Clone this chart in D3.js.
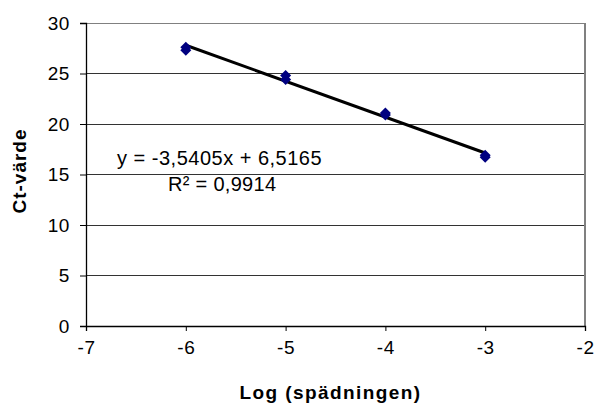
<!DOCTYPE html>
<html>
<head>
<meta charset="utf-8">
<script src="https://cdn.jsdelivr.net/npm/d3@7"></script>
<style>
  body { margin: 0; background: #fff; }
  text { font-family: "Liberation Sans", Arial, sans-serif; }
</style>
</head>
<body>
<div id="chart"></div>
<script>
// data (two replicates per dilution)
var dilutions = [-6, -6, -5, -5, -4, -4, -3, -3];
var ctValues  = [27.6, 27.3, 24.8, 24.4, 21.1, 20.9, 16.9, 16.7];
var xTicks = [-7, -6, -5, -4, -3, -2];
var yTicks = [0, 5, 10, 15, 20, 25, 30];
var equationLabel = "y = -3,5405x + 6,5165";
var r2Label = "R² = 0,9914";

var width = 594, height = 409;
var margin = {top: 23, right: 9, bottom: 83, left: 86};

var svg = d3.select("#chart")
  .append("svg")
    .attr("width", width)
    .attr("height", height);

var x = d3.scaleLinear().domain([-7, -2]).range([margin.left, width - margin.right]);
var y = d3.scaleLinear().domain([0, 30]).range([height - margin.bottom, margin.top]);

// gridlines
svg.append("g")
  .selectAll("line")
  .data(yTicks.slice(1))
  .enter().append("line")
    .attr("x1", x(-7)).attr("x2", x(-2))
    .attr("y1", function(d) { return y(d); })
    .attr("y2", function(d) { return y(d); })
    .attr("stroke", function(d) { return d === 30 ? "#808080" : "#333"; })
    .attr("stroke-width", 1)
    .attr("shape-rendering", "crispEdges");

// right border
svg.append("line")
  .attr("x1", x(-2)).attr("x2", x(-2))
  .attr("y1", y(0)).attr("y2", y(30))
  .attr("stroke", "#808080")
  .attr("stroke-width", 1.5)
  .attr("shape-rendering", "crispEdges");

// axes
var yAxis = svg.append("g")
  .attr("transform", "translate(" + x(-7) + ",0)")
  .call(d3.axisLeft(y).tickValues(yTicks).tickSize(6).tickPadding(10).tickFormat(d3.format("d")));
var xAxis = svg.append("g")
  .attr("transform", "translate(0," + y(0) + ")")
  .call(d3.axisBottom(x).tickValues(xTicks).tickSize(5).tickPadding(10).tickFormat(function(d) { return d; }));

[yAxis, xAxis].forEach(function(a) {
  a.select(".domain").attr("stroke", "#000").attr("stroke-width", 1.3);
  a.selectAll(".tick line").attr("stroke", "#000");
  a.selectAll("text").attr("font-size", 19).attr("fill", "#000")
    .attr("letter-spacing", 0.6)
    .attr("font-family", "Liberation Sans, Arial, sans-serif");
});

// trendline from least squares
var n = dilutions.length;
var mx = d3.mean(dilutions), my = d3.mean(ctValues);
var sxy = 0, sxx = 0;
for (var i = 0; i < n; i++) {
  sxy += (dilutions[i] - mx) * (ctValues[i] - my);
  sxx += (dilutions[i] - mx) * (dilutions[i] - mx);
}
var slope = sxy / sxx, intercept = my - slope * mx;
var ext = d3.extent(dilutions);

svg.append("line")
  .attr("x1", x(ext[0])).attr("y1", y(slope * ext[0] + intercept))
  .attr("x2", x(ext[1])).attr("y2", y(slope * ext[1] + intercept))
  .attr("stroke", "#000")
  .attr("stroke-width", 3);

// points as diamonds
svg.append("g")
  .selectAll("path")
  .data(dilutions.map(function(d, i) { return [d, ctValues[i]]; }))
  .enter().append("path")
    .attr("transform", function(d) { return "translate(" + x(d[0]) + "," + y(d[1]) + ")"; })
    .attr("d", "M0,-5.5L5.5,0L0,5.5L-5.5,0Z")
    .attr("fill", "#000080");

// regression labels
svg.append("text")
  .attr("x", 117).attr("y", 165)
  .attr("font-size", 20)
  .attr("letter-spacing", 0.5)
  .text(equationLabel);
svg.append("text")
  .attr("x", 168).attr("y", 191)
  .attr("font-size", 20)
  .attr("letter-spacing", 0.3)
  .text(r2Label);

// axis titles
svg.append("text")
  .attr("transform", "translate(26,171) rotate(-90)")
  .attr("text-anchor", "middle")
  .attr("font-size", 19)
  .attr("font-weight", "bold")
  .attr("letter-spacing", 1)
  .text("Ct-värde");
svg.append("text")
  .attr("x", (x(-7) + x(-2)) / 2 - 5)
  .attr("y", 399)
  .attr("text-anchor", "middle")
  .attr("font-size", 19)
  .attr("font-weight", "bold")
  .attr("letter-spacing", 1.4)
  .text("Log (spädningen)");
</script>
</body>
</html>
